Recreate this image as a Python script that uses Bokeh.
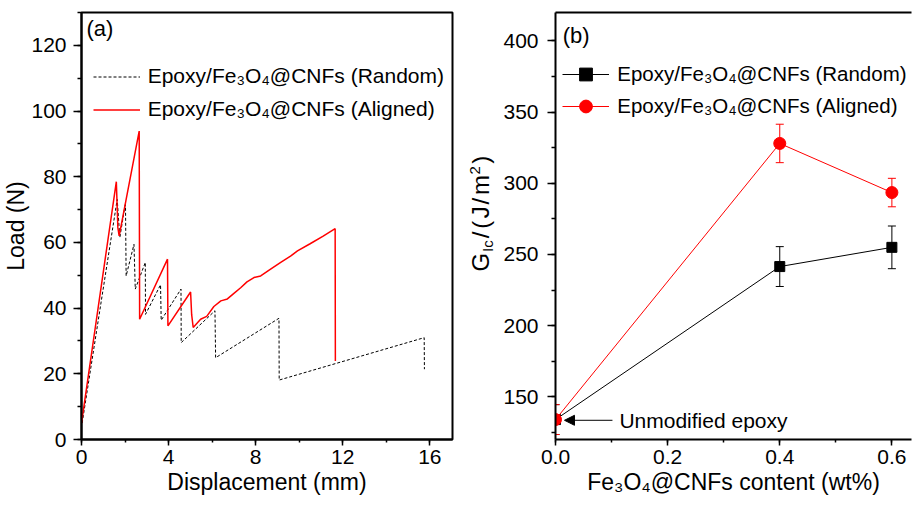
import math
from bokeh.plotting import figure
from bokeh.models import (Legend, LegendItem, Label, Arrow, NormalHead, Whisker, TeeHead, Title,
                          ColumnDataSource, SingleIntervalTicker, LinearAxis, FixedTicker,
                          PrintfTickFormatter, Range1d)
from bokeh.layouts import row
from bokeh.embed import file_html
from bokeh.resources import INLINE

FONT = "Liberation Sans"

# ---------------- (a) Load vs displacement ----------------
aligned_disp = [0.0, 1.60, 1.67, 1.73, 2.65, 2.67, 3.95, 3.97, 5.01, 5.06, 5.13, 5.47, 5.75,
                6.08, 6.40, 6.70, 7.00, 7.31, 7.60, 7.92, 8.23, 8.60, 9.15, 9.60, 9.92,
                10.50, 11.10, 11.65, 11.66]
aligned_load = [5.0, 78.5, 64.5, 62.0, 93.9, 36.6, 54.9, 34.6, 44.9, 38.0, 34.1, 36.6, 37.5,
                40.5, 42.2, 42.8, 44.5, 46.2, 48.0, 49.3, 49.8, 51.5, 53.9, 55.8, 57.4,
                59.6, 61.9, 64.2, 23.9]
random_disp = [0.03, 1.64, 1.76, 2.02, 2.05, 2.41, 2.47, 2.93, 2.94, 3.63, 3.66, 4.57, 4.58,
               6.13, 6.16, 9.07, 9.08, 15.74, 15.75]
random_load = [5.0, 73.1, 61.5, 72.1, 49.8, 59.4, 45.8, 53.9, 38.1, 47.1, 36.3, 45.8, 29.5,
               39.2, 24.9, 36.9, 18.1, 31.0, 21.4]

# ---------------- (b) G_Ic vs content ----------------
content = [0.0, 0.4, 0.6]
g_random = [134.0, 241.5, 255.0]
g_random_err = [10.5, 14.0, 15.0]
g_aligned = [134.0, 328.0, 293.5]
g_aligned_err = [10.5, 13.5, 10.0]

label_random = "Epoxy/Fe\u2083O\u2084@CNFs (Random)"
label_aligned = "Epoxy/Fe\u2083O\u2084@CNFs (Aligned)"


def style_axis(ax, tick_out, minor_out, standoff):
    ax.axis_line_width = 2
    ax.axis_line_color = "black"
    ax.major_tick_line_width = 1.5
    ax.minor_tick_line_width = 1.5
    ax.major_tick_out = tick_out
    ax.major_tick_in = 0
    ax.minor_tick_out = minor_out
    ax.minor_tick_in = 0
    ax.major_label_text_font = FONT
    ax.major_label_text_font_size = "21px"
    ax.major_label_text_color = "black"
    ax.major_label_standoff = standoff
    ax.axis_label_text_font = FONT
    ax.axis_label_text_font_size = "23px"
    ax.axis_label_text_font_style = "normal"
    ax.axis_label_text_color = "black"
    ax.axis_label_standoff = 2


def label_fig(w):
    f = figure(width=w, height=508, x_range=Range1d(0, w), y_range=Range1d(508, 0),
               output_backend="svg", toolbar_location=None,
               x_axis_location=None, y_axis_location=None, min_border=0)
    f.outline_line_color = None
    f.xgrid.grid_line_color = None
    f.ygrid.grid_line_color = None
    return f


# ---------------- figure (a) ----------------
p1 = figure(width=460, height=508, x_range=(0, 17.04), y_range=(0, 130),
            output_backend="svg", toolbar_location=None,
            min_border_left=81, min_border_right=8, min_border_top=12, min_border_bottom=69)
p1.xgrid.grid_line_color = None
p1.ygrid.grid_line_color = None
p1.outline_line_color = "black"
p1.outline_line_width = 2
p1.xaxis.ticker = SingleIntervalTicker(interval=4, num_minor_ticks=2)
p1.yaxis.ticker = SingleIntervalTicker(interval=20, num_minor_ticks=2)
style_axis(p1.xaxis[0], 6, 3, 4)
style_axis(p1.yaxis[0], 8, 4, 7)
p1.xaxis.axis_label = "Displacement (mm)"
p1.add_layout(Title(text="Load (N)", align="center", offset=13, standoff=0,
                    text_font=FONT, text_font_size="23px", text_font_style="normal",
                    text_color="black"), "left")

r_rand = p1.line(random_disp, random_load, line_color="black", line_width=1, line_dash="3 2")
r_al = p1.line(aligned_disp, aligned_load, line_color="#ff0000", line_width=1.5)

leg1 = Legend(items=[LegendItem(label=label_random, renderers=[r_rand]),
                     LegendItem(label=label_aligned, renderers=[r_al])],
              location=(11.7, 313.5), glyph_width=47, glyph_height=33, label_height=33,
              label_standoff=8, spacing=0, padding=0, margin=0,
              border_line_color=None, background_fill_alpha=0,
              label_text_font=FONT, label_text_font_size="21px", label_text_color="black")
p1.add_layout(leg1)

p1.add_layout(Label(x=0.23, y=125.1, text="(a)", text_font=FONT, text_font_size="22px",
                    text_color="black", text_baseline="middle", text_align="left"))

# ---------------- y label strip for (b): G_Ic/(J/m^2) ----------------
X0 = 460
lab2 = label_fig(40)
pieces = [("G", 480, 308, "24px"), ("Ic", 486.5, 284.8, "15px"), ("/", 480, 268.6, "24px"),
          ("(", 480, 257.4, "24px"), ("J", 480, 244.9, "24px"), ("/", 480, 228.4, "24px"),
          ("m", 480, 217.2, "24px"), ("2", 474.5, 192.7, "15px"), (")", 480, 179.9, "24px")]
for txt, px, py, fs in pieces:
    lab2.add_layout(Label(x=px - X0, y=py, text=txt, text_font=FONT, text_font_size=fs,
                          text_color="black", angle=math.pi / 2,
                          text_baseline="middle", text_align="left"))

# ---------------- figure (b) ----------------
p2 = figure(width=412, height=508, x_range=(0, 0.635), y_range=(120, 420),
            output_backend="svg", toolbar_location=None,
            min_border_left=53, min_border_right=1, min_border_top=11, min_border_bottom=68)
p2.xgrid.grid_line_color = None
p2.ygrid.grid_line_color = None
p2.outline_line_color = None
p2.xaxis.ticker = SingleIntervalTicker(interval=0.2, num_minor_ticks=2)
p2.yaxis.ticker = SingleIntervalTicker(interval=50, num_minor_ticks=2)
p2.xaxis.formatter = PrintfTickFormatter(format="%.1f")
style_axis(p2.xaxis[0], 6, 3, 4)
style_axis(p2.yaxis[0], 8, 4, 9)
p2.xaxis.axis_label = "Fe\u2083O\u2084@CNFs content (wt%)"

top_ax = LinearAxis(ticker=FixedTicker(ticks=[]))
top_ax.axis_line_width = 2
top_ax.axis_line_color = "black"
p2.add_layout(top_ax, "above")

src_r = ColumnDataSource(dict(x=content, y=g_random,
                              up=[v + e for v, e in zip(g_random, g_random_err)],
                              lo=[v - e for v, e in zip(g_random, g_random_err)]))
src_a = ColumnDataSource(dict(x=content, y=g_aligned,
                              up=[v + e for v, e in zip(g_aligned, g_aligned_err)],
                              lo=[v - e for v, e in zip(g_aligned, g_aligned_err)]))

p2.add_layout(Whisker(base="x", upper="up", lower="lo", source=src_r, line_color="black",
                      line_width=1,
                      upper_head=TeeHead(size=8, line_color="black", line_width=1),
                      lower_head=TeeHead(size=8, line_color="black", line_width=1)))
r_bl = p2.line("x", "y", source=src_r, line_color="black", line_width=1)
r_bs = p2.scatter("x", "y", source=src_r, marker="square", size=10, fill_color="black",
                  line_color="black")
p2.add_layout(Whisker(base="x", upper="up", lower="lo", source=src_a, line_color="#ff0000",
                      line_width=1,
                      upper_head=TeeHead(size=8, line_color="#ff0000", line_width=1),
                      lower_head=TeeHead(size=8, line_color="#ff0000", line_width=1)))
r_rl = p2.line("x", "y", source=src_a, line_color="#ff0000", line_width=1)
r_rs = p2.scatter("x", "y", source=src_a, marker="circle", size=12, fill_color="#ff0000",
                  line_color="#ff0000")

leg2 = Legend(items=[LegendItem(label=label_random, renderers=[r_bl, r_bs]),
                     LegendItem(label=label_aligned, renderers=[r_rl, r_rs])],
              location=(7.3, 317), glyph_width=47, glyph_height=32, label_height=32,
              label_standoff=8, spacing=0, padding=0, margin=0,
              border_line_color=None, background_fill_alpha=0,
              label_text_font=FONT, label_text_font_size="20.5px", label_text_color="black")
p2.add_layout(leg2)

p2.add_layout(Label(x=0.013, y=404, text="(b)", text_font=FONT, text_font_size="22px",
                    text_color="black", text_baseline="middle", text_align="left"))

p2.add_layout(Arrow(end=NormalHead(size=10, fill_color="black", line_color="black"),
                    x_start=0.1016, y_start=133.5, x_end=0.016, y_end=133.5,
                    line_color="black", line_width=1))
p2.add_layout(Label(x=0.114, y=133.5, text="Unmodified epoxy", text_font=FONT,
                    text_font_size="21px", text_color="black",
                    text_baseline="middle", text_align="left"))

layout = row(p1, lab2, p2)
open("out.html", "w").write(file_html(layout, INLINE))
